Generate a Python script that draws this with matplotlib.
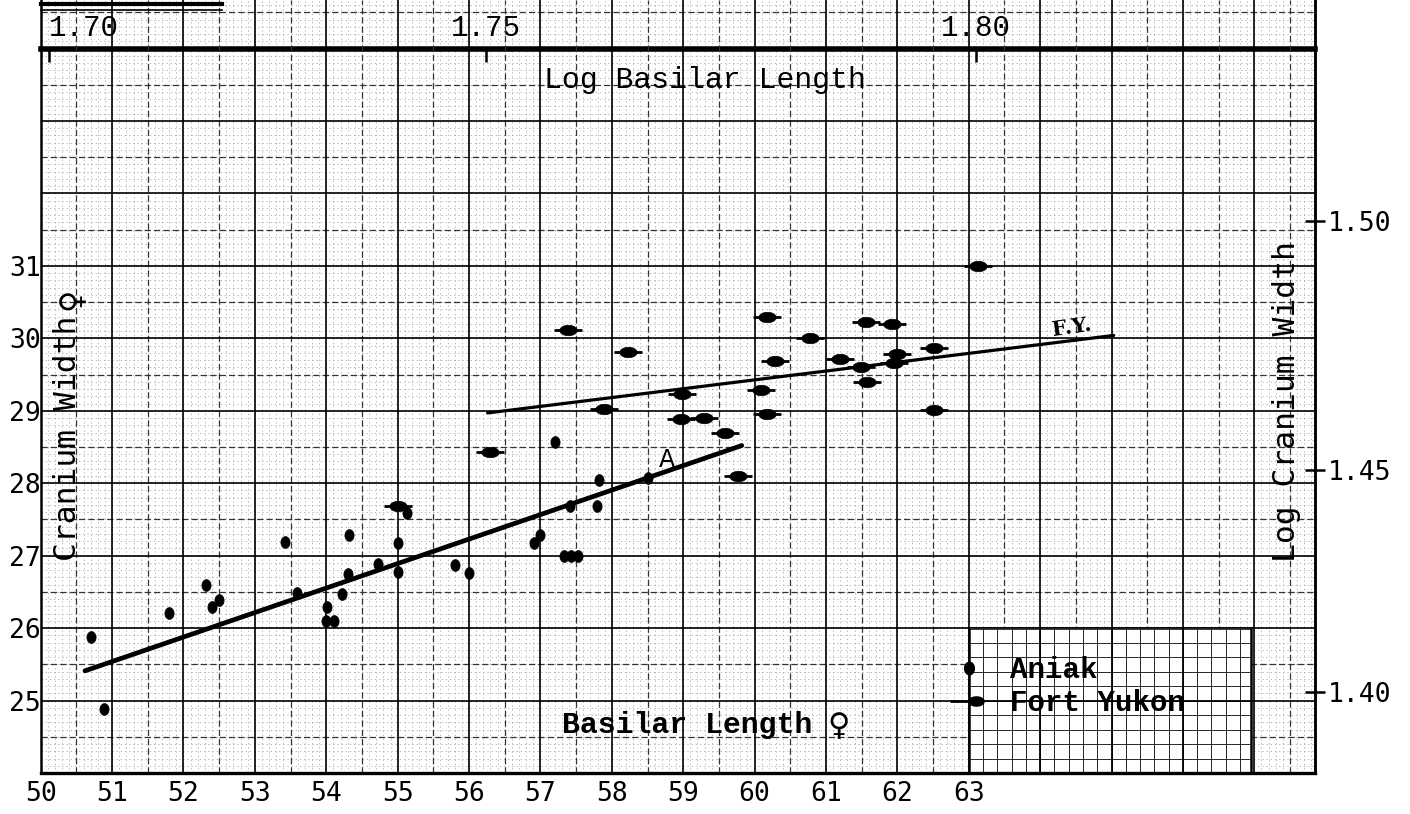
import numpy as np
import matplotlib
matplotlib.use("Agg")
import matplotlib.pyplot as plt
from matplotlib.lines import Line2D
from matplotlib.patches import Rectangle
from matplotlib.legend_handler import HandlerTuple
from matplotlib.font_manager import FontProperties

# ---------------- data ----------------
aniak_x = [50.70, 50.89, 51.80, 52.32, 52.40, 52.50, 53.42, 53.59, 54.01, 54.00,
           54.11, 54.22, 54.31, 54.32, 54.72, 55.00, 55.00, 55.13, 55.80, 56.00,
           56.91, 57.00, 57.41, 57.79, 57.33, 57.43, 57.53, 57.82, 58.51, 57.21]
aniak_y = [25.88, 24.88, 26.21, 26.59, 26.29, 26.39, 27.19, 26.48, 26.29, 26.10,
           26.10, 26.47, 26.75, 27.28, 26.88, 26.78, 27.18, 27.59, 26.87, 26.76,
           27.18, 27.29, 27.68, 27.68, 26.99, 26.99, 26.99, 28.05, 28.07, 28.57]

fy_x = [55.00, 56.29, 57.39, 57.89, 58.22, 58.99, 58.97, 59.29, 59.58, 59.77,
        60.09, 60.18, 60.18, 60.29, 60.77, 61.20, 61.49, 61.58, 61.56, 61.93,
        62.00, 61.95, 62.52, 62.52, 63.13]
fy_y = [27.69, 28.43, 30.11, 29.03, 29.81, 29.23, 28.88, 28.90, 28.69, 28.10,
        29.29, 28.96, 30.29, 29.69, 30.00, 29.72, 29.60, 29.40, 30.22, 30.20,
        29.79, 29.66, 29.86, 29.01, 31.00]

aniak_fit_x = [50.62, 59.82]
aniak_fit_y = [25.41, 28.52]
fy_fit_x = [56.26, 65.03]
fy_fit_y = [28.97, 30.04]

x_tick_values = list(range(50, 64))
y_tick_values = list(range(25, 32))
log_x_ticks = [1.70, 1.75, 1.80]
log_y_ticks = [1.40, 1.45, 1.50]

series_labels = ["Aniak", "Fort Yukon"]

# ---------------- figure ----------------
W, H = 1410, 814
fig = plt.figure(figsize=(W / 100, H / 100), dpi=100, facecolor="white")
L, R, B = 40.7, 1315.0, 773.0
ax = fig.add_axes([L / W, 1 - B / H, (R - L) / W, B / H])
XMIN, XMAX, YMIN, YMAX = 50.0, 67.85, 24.0, 34.67
ax.set_xlim(XMIN, XMAX)
ax.set_ylim(YMIN, YMAX)
ax.set_facecolor("white")

# graph-paper background
tenth_x = np.arange(XMIN + 0.1, XMAX, 0.1)
tenth_y = np.arange(YMIN + 0.1, YMAX, 0.1)
ax.vlines(tenth_x, YMIN, YMAX, colors="0.62", lw=0.5, linestyles=(0, (2, 4)), zorder=0)
ax.hlines(tenth_y, XMIN, XMAX, colors="0.62", lw=0.5, linestyles=(0, (2, 4)), zorder=0)
half_x = np.arange(XMIN + 0.5, XMAX, 1.0)
half_y = np.arange(YMIN + 0.5, YMAX, 1.0)
ax.vlines(half_x, YMIN, YMAX, colors="0.2", lw=0.9, linestyles=(0, (5, 2.5)), zorder=0.5)
ax.hlines(half_y, XMIN, XMAX, colors="0.2", lw=0.9, linestyles=(0, (5, 2.5)), zorder=0.5)
maj_x = np.arange(XMIN + 1, XMAX, 1.0)
maj_y = np.arange(YMIN + 1, 34, 1.0)
ax.vlines(maj_x, YMIN, YMAX, colors="black", lw=1.2, zorder=0.8)
ax.hlines(maj_y, XMIN, XMAX, colors="black", lw=1.2, zorder=0.8)

# legend panel with its dense grid
bx0, bx1, by0, by1 = 63.0, 66.95, 24.0, 26.0
ax.add_patch(Rectangle((bx0, by0), bx1 - bx0, by1 - by0, facecolor="white",
                       edgecolor="black", lw=1.8, zorder=1))
ax.vlines(np.arange(bx0 + 0.2, bx1, 0.2), by0, by1, colors="0.15", lw=0.7, zorder=1.1)
ax.hlines(np.arange(by0 + 0.2, by1, 0.2), bx0, bx1, colors="0.15", lw=0.7, zorder=1.1)
ax.vlines(np.arange(64, 67), by0, by1, colors="black", lw=1.3, zorder=1.2)
ax.hlines([25], bx0, bx1, colors="black", lw=1.3, zorder=1.2)

for s in ["left", "right"]:
    ax.spines[s].set_linewidth(1.8)
ax.spines["bottom"].set_linewidth(2.4)
ax.spines["top"].set_visible(False)

# ---------------- markers ----------------
t = np.linspace(0, 2 * np.pi, 41)
ell_tall = np.column_stack([0.78 * np.cos(t), np.sin(t)])
ell_wide = np.column_stack([np.cos(t), 0.6 * np.sin(t)])

ax.plot(aniak_fit_x, aniak_fit_y, color="black", lw=3.4, solid_capstyle="round", zorder=3)
ax.plot(fy_fit_x, fy_fit_y, color="black", lw=2.3, solid_capstyle="round", zorder=3)

ax.plot(aniak_x, aniak_y, ls="none", marker=ell_tall, ms=8.5, mfc="black",
        mec="black", mew=0.5, zorder=4)
ax.plot(fy_x, fy_y, ls="none", marker="_", ms=20, mew=2.0, color="black", zorder=4)
ax.plot(fy_x, fy_y, ls="none", marker=ell_wide, ms=12.5, mfc="black", mec="black",
        mew=0.5, zorder=4)

# ---------------- ticks ----------------
mono_sans = ["DejaVu Sans Mono", "DejaVu Sans"]
courier = ["Liberation Mono", "DejaVu Sans"]

ax.set_xticks(x_tick_values)
ax.set_xticklabels([str(v) for v in x_tick_values])
ax.set_yticks(y_tick_values)
ax.set_yticklabels([str(v) for v in y_tick_values])
ax.tick_params(axis="both", length=0, labelsize=19)
ax.tick_params(axis="x", pad=6)
ax.tick_params(axis="y", pad=0)
for lab in ax.get_xticklabels() + ax.get_yticklabels():
    lab.set_fontfamily(mono_sans)

pos_top = (34 - YMIN) / (YMAX - YMIN)
secx = ax.secondary_xaxis(pos_top, functions=(np.log10, lambda v: 10 ** v))
secx.set_xticks(log_x_ticks)
secx.set_xticklabels([f"{v:.2f}" for v in log_x_ticks])
secx.tick_params(direction="in", length=9, width=1.8, pad=5, labelsize=21)
for sp in secx.spines.values():
    sp.set_linewidth(4.0)
xl = secx.get_xticklabels()
for lab in xl:
    lab.set_fontfamily(courier)
xl[0].set_horizontalalignment("left")

secy = ax.secondary_yaxis("right", functions=(np.log10, lambda v: 10 ** v))
secy.set_yticks(log_y_ticks)
secy.set_yticklabels([f"{v:.2f}" for v in log_y_ticks])
secy.tick_params(direction="inout", length=14, width=1.8, pad=2, labelsize=19)
secy.spines["right"].set_linewidth(1.8)
for lab in secy.get_yticklabels():
    lab.set_fontfamily(mono_sans)

# ---------------- texts ----------------
ax.text(59.30, 33.56, "Log Basilar Length", family=courier, fontsize=21.5,
        ha="center", va="center", zorder=5)
ax.text(59.06, 24.66, "Basilar Length", family=courier, fontsize=21.5,
        fontweight="bold", ha="center", va="center", zorder=5)
ax.text(61.17, 24.64, "\u2640", family=["DejaVu Sans"], fontsize=22,
        fontweight="bold", ha="center", va="center", zorder=5)
ax.text(50.37, 28.62, "Cranium Width", family=mono_sans, fontsize=22.5,
        rotation=90, ha="center", va="center", zorder=5)
ax.text(50.44, 30.54, "\u2640", family=["DejaVu Sans"], fontsize=22,
        fontweight="bold", rotation=90, ha="center", va="center", zorder=5)
ax.text(67.45, 29.13, "Log Cranium Width", family=mono_sans, fontsize=22.5,
        rotation=90, ha="center", va="center", zorder=5)
ax.text(64.45, 30.15, "F.Y.", family=["DejaVu Serif"], fontsize=15, rotation=8,
        fontweight="bold", ha="center", va="center", zorder=5)
ax.text(58.77, 28.32, "A", family=["DejaVu Sans"], fontsize=17,
        ha="center", va="center", zorder=5)

# ---------------- legend ----------------
h_aniak = Line2D([], [], ls="none", marker=ell_tall, ms=9, color="black")
h_fy1 = Line2D([], [], ls="none", marker="_", ms=18, mew=2.0, color="black")
h_fy2 = Line2D([], [], ls="none", marker=ell_wide, ms=11, color="black")
ax.legend([h_aniak, (h_fy1, h_fy2)], series_labels,
          handler_map={tuple: HandlerTuple(ndivide=None, pad=0)},
          loc="upper left", bbox_to_anchor=(62.8, 25.61),
          bbox_transform=ax.transData, frameon=False,
          prop=FontProperties(family=courier, weight="bold", size=21),
          handlelength=1.0, handletextpad=0.9, borderpad=0, borderaxespad=0,
          labelspacing=0.17)

# remnant of a ruled caption at the top edge
fig.add_artist(Line2D([41 / W, 222 / W], [1 - 4 / H, 1 - 4 / H], color="black",
                      lw=3.0, transform=fig.transFigure))
fig.add_artist(Line2D([41 / W, 222 / W], [1 - 10 / H, 1 - 10 / H], color="black",
                      lw=1.2, transform=fig.transFigure))

fig.savefig("out.png", dpi=100, facecolor="white")
